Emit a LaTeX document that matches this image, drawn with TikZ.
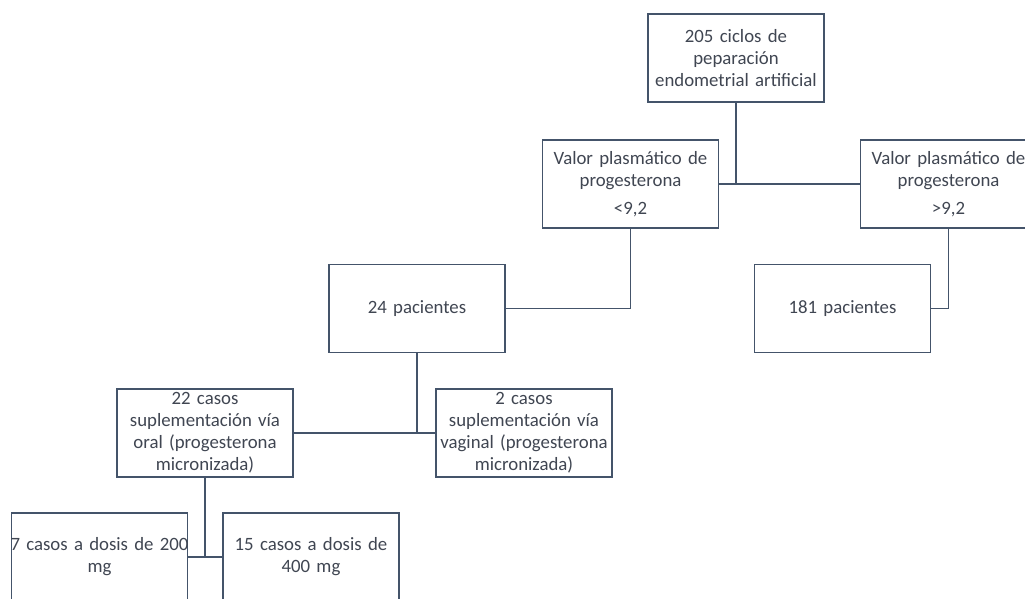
\documentclass[tikz,border=0pt]{standalone}
\usepackage{fontspec}
\setmainfont{Carlito}
\usetikzlibrary{positioning}
\definecolor{boxline}{HTML}{44546A}
\definecolor{boxtext}{HTML}{404652}
\tikzset{
    box/.style={draw=boxline, line width=0.9pt, fill=white, minimum width=88pt, minimum height=44pt,
        text width=87pt, inner sep=0.5pt, align=center, text=boxtext, font=\fontsize{9.4}{11}\selectfont},
    link/.style={draw=boxline, line width=0.9pt},
    trunk/.style={draw=boxline, line width=1.4pt},
    x=0.5pt, y=-0.5pt
}

\begin{document}
\begin{tikzpicture}
\clip (0,0) rectangle (1025,599);
\fill[white] (0,0) rectangle (1025,599);

\node[box] (total) at (736,58) {205 ciclos de\\peparación\\endometrial artificial};
\node[box] (low) at (630.5,184) {Valor plasmático de\\progesterona\\[3pt]<9,2};
\node[box] (high) at (948.5,184) {Valor plasmático de\\progesterona\\[3pt]>9,2};
\node[box] (p24) at (417,308.5) {24 pacientes};
\node[box] (p181) at (842.5,308.5) {181 pacientes};
\node[box] (oral) at (205,433) {22 casos\\suplementación vía\\oral (progesterona\\micronizada)};
\node[box] (vaginal) at (524,433) {2 casos\\suplementación vía\\vaginal (progesterona\\micronizada)};
\node[box] (d200) at (99.5,557) {\makebox[0pt]{7 casos a dosis de 200}\\mg};
\node[box] (d400) at (311,557) {15 casos a dosis de\\400 mg};

\draw[link] (low.east) -- (high.west);
\draw[trunk] (total.south) -- (total.south |- low.east);
\draw[link] (low.south) |- (p24.east);
\draw[link] (high.south) |- (p181.east);
\draw[link] (oral.east) -- (vaginal.west);
\draw[link] (p24.south) -- (p24.south |- oral.east);
\draw[link] (d200.east) -- (d400.west);
\draw[trunk] (oral.south) -- (oral.south |- d200.east);
\end{tikzpicture}
\end{document}
